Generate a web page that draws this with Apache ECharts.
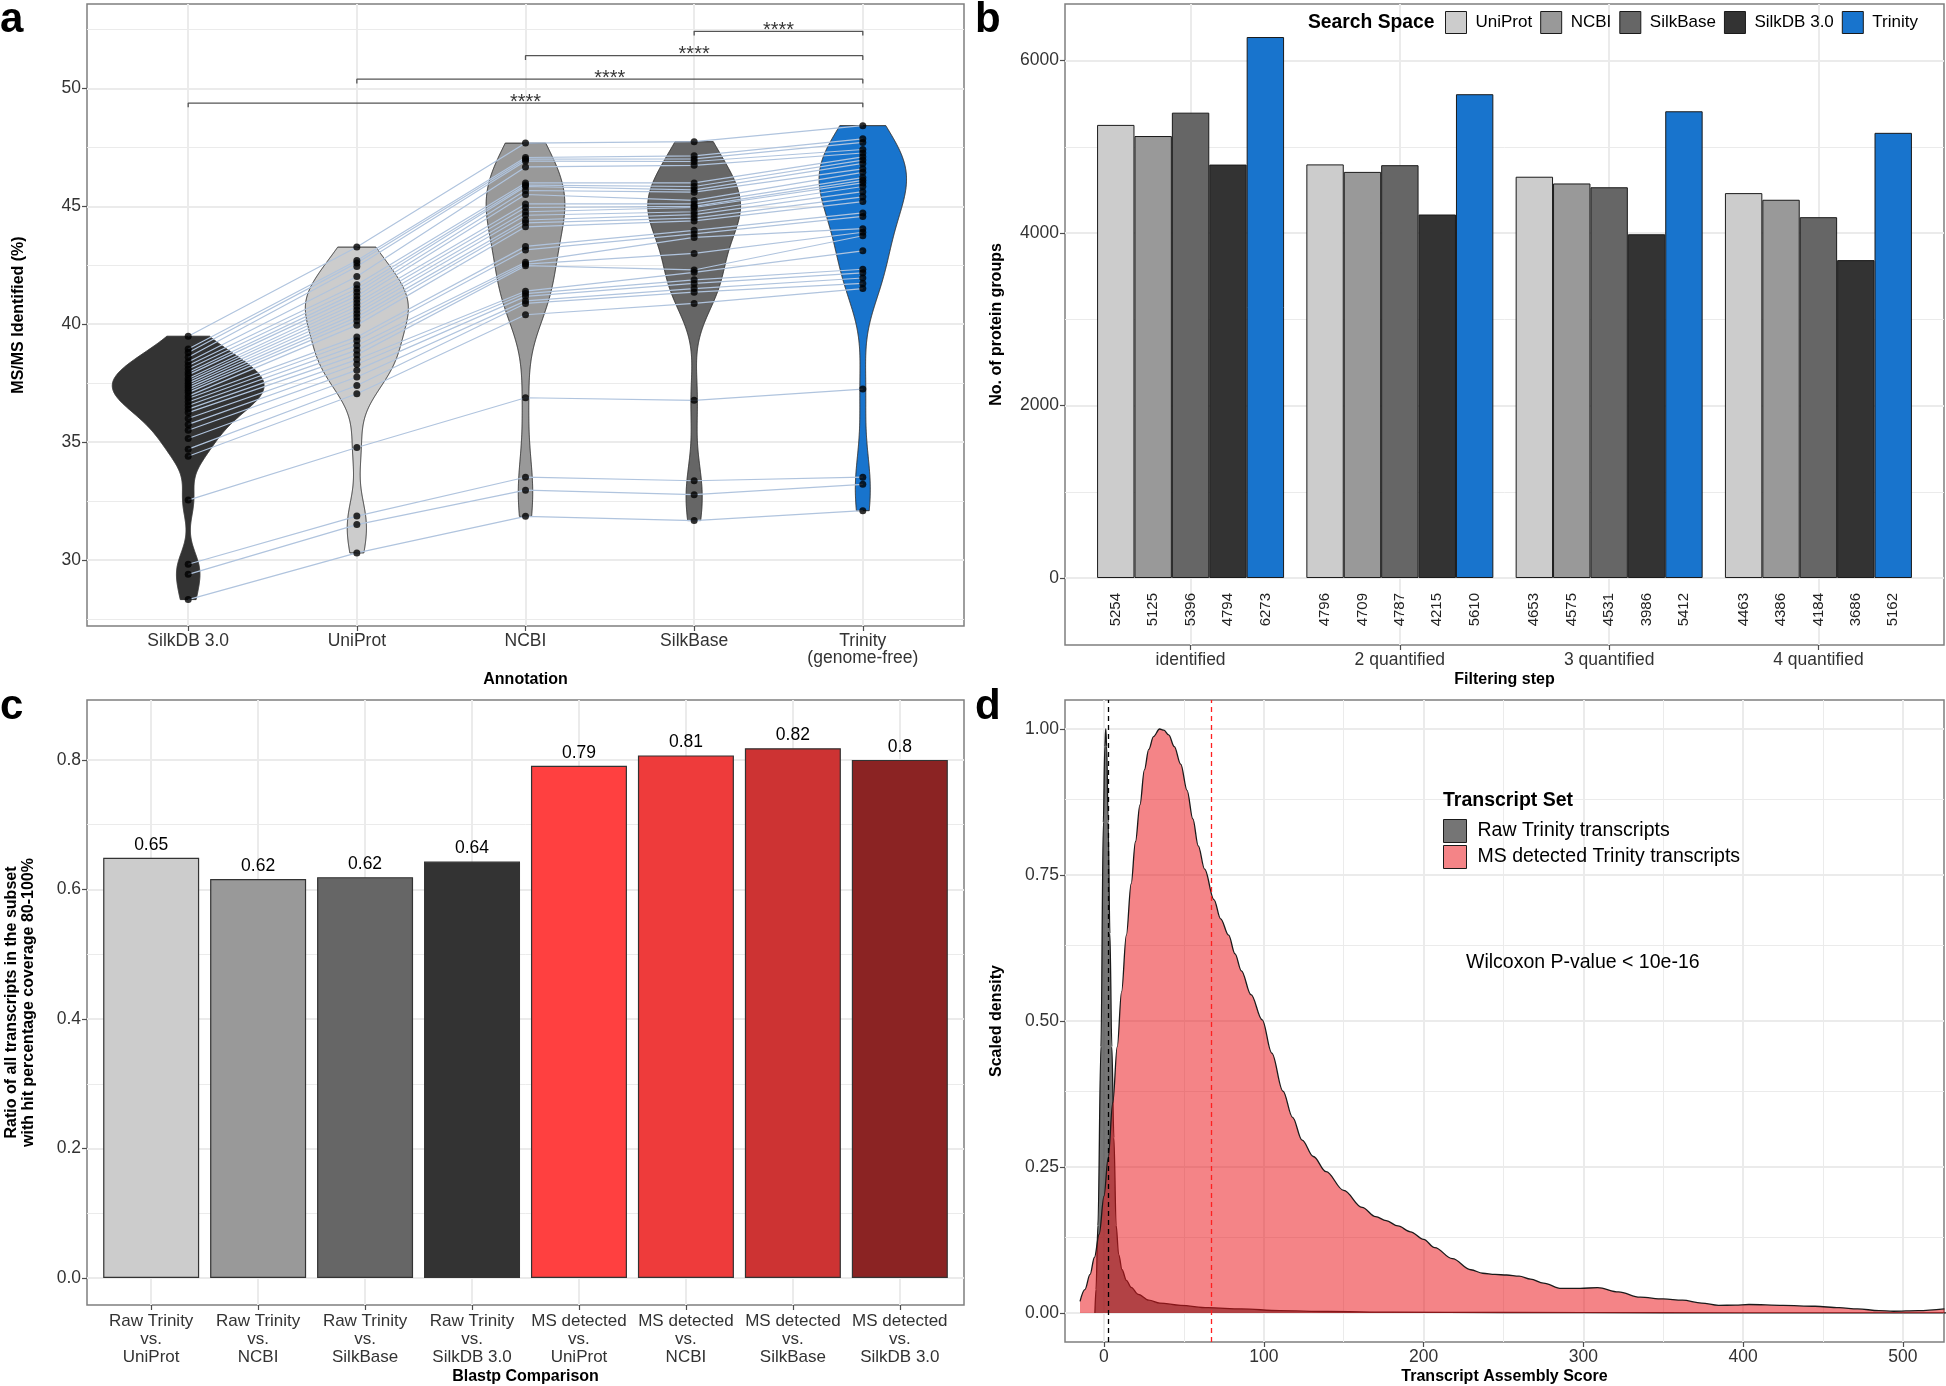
<!DOCTYPE html>
<html><head><meta charset="utf-8"><title>Figure</title>
<script src="https://cdn.jsdelivr.net/npm/echarts@6.0.0/dist/echarts.min.js"></script>
<style>html,body{margin:0;padding:0;background:#fff;}#chart{width:1946px;height:1386px;}</style>
</head><body><div id="chart"></div>
<script>
// ---------------- Panel a : MS/MS identified (%) per annotation ----------------
const annotationCats = ['SilkDB 3.0', 'UniProt', 'NCBI', 'SilkBase', 'Trinity\n(genome-free)'];
const msmsSilkDB   = [39.49,38.95,38.8,38.6,38.4,38.25,38.1,37.95,37.85,37.7,37.6,37.5,37.4,37.3,37.2,37.1,36.95,36.85,36.7,36.55,36.4,36.25,36.0,35.75,35.5,35.15,34.7,34.4,32.54,29.82,29.39,28.32];
const msmsUniProt  = [43.27,42.7,42.6,42.45,42.02,41.67,41.5,41.35,41.2,41.05,40.9,40.75,40.6,40.45,40.3,40.15,39.96,39.46,39.3,39.1,38.9,38.7,38.5,38.3,38.05,37.76,37.4,37.05,34.77,31.86,31.5,30.3];
const msmsNCBI     = [47.68,47.07,47.0,46.92,46.67,45.99,45.9,45.84,45.67,45.5,45.1,44.95,44.77,44.62,44.42,44.3,44.13,43.3,43.15,42.63,42.55,42.48,41.4,41.3,41.18,40.99,40.88,40.4,36.88,33.51,32.96,31.85];
const msmsSilkBase = [47.74,47.14,47.01,46.9,46.74,45.99,45.84,45.7,45.6,45.25,45.1,45.0,44.95,44.77,44.65,44.5,44.38,43.98,43.83,43.68,43.0,42.3,42.2,41.88,41.73,41.51,41.36,40.88,36.77,33.36,32.77,31.67];
const msmsTrinity  = [48.42,47.86,47.71,47.41,47.26,47.1,46.96,46.82,46.59,46.44,46.22,46.1,45.99,45.84,45.62,45.4,45.2,44.72,44.57,44.05,43.9,43.75,43.11,42.33,42.18,41.96,41.73,41.51,37.25,33.51,33.21,32.09];
const msmsTicks = [30, 35, 40, 45, 50];
const sigPairs  = [[1, 5], [2, 5], [3, 5], [4, 5]];
const sigLevels = [49.38, 50.39, 51.39, 52.42];
const sigLabels = ['****', '****', '****', '****'];

// ---------------- Panel b : protein groups ----------------
const filterSteps  = ['identified', '2 quantified', '3 quantified', '4 quantified'];
const searchSpaces = ['UniProt', 'NCBI', 'SilkBase', 'SilkDB 3.0', 'Trinity'];
const pgUniProt  = [5254, 4796, 4653, 4463];
const pgNCBI     = [5125, 4709, 4575, 4386];
const pgSilkBase = [5396, 4787, 4531, 4184];
const pgSilkDB   = [4794, 4215, 3986, 3686];
const pgTrinity  = [6273, 5610, 5412, 5162];
const pgTicks = [0, 2000, 4000, 6000];

// ---------------- Panel c : blastp coverage ratio ----------------
const blastCats = ['Raw Trinity\nvs.\nUniProt', 'Raw Trinity\nvs.\nNCBI', 'Raw Trinity\nvs.\nSilkBase', 'Raw Trinity\nvs.\nSilkDB 3.0',
                   'MS detected\nvs.\nUniProt', 'MS detected\nvs.\nNCBI', 'MS detected\nvs.\nSilkBase', 'MS detected\nvs.\nSilkDB 3.0'];
const blastRatio = [0.649, 0.616, 0.619, 0.643, 0.791, 0.807, 0.818, 0.800];
const ratioTicks = [0, 0.2, 0.4, 0.6, 0.8];

// ---------------- Panel d : transcript assembly score density ----------------
const rawScore   = [-5.7,-5,-3.8,-1.9,-0.4,0.5,1.1,1.7,2.6,3.7,4.9,6.2,7.6,9.2,11.3,14,17,21.5,28,35,48,65,86,110,140,180,250,350,450,530];
const rawDensity = [0,0.04,0.15,0.456,0.84,0.97,1.0,0.97,0.84,0.65,0.456,0.3,0.15,0.1,0.074,0.056,0.044,0.032,0.022,0.017,0.013,0.009,0.007,0.004,0.0025,0.0015,0.0008,0.0004,0.0002,0.0001];
const msScore    = [-15,-12,-8.7,-6,-3,0,2.6,5.5,8.3,11,14,17,19.7,22.5,25.3,28,31,34.8,37.5,40.5,44,48,52,55.6,59,63,68.8,73,78,82,86,92,99,105,112,118,124,131,139,150,161.5,170,176.6,184,191.8,200,207,218,229.6,237,244.7,252,259.8,267,275,286.3,298,309,322,335.5,350,362,374,384.6,395,403.6,425,445,460,471.6,485,494,509.5,526];
const msDensity  = [0.02,0.04,0.066,0.095,0.135,0.2,0.265,0.36,0.456,0.55,0.647,0.735,0.807,0.87,0.93,0.965,0.987,1.0,0.998,0.99,0.97,0.94,0.895,0.846,0.8,0.76,0.708,0.675,0.647,0.615,0.586,0.545,0.502,0.445,0.38,0.335,0.296,0.268,0.242,0.21,0.181,0.165,0.158,0.149,0.139,0.126,0.112,0.093,0.074,0.068,0.066,0.065,0.063,0.058,0.051,0.042,0.042,0.0435,0.036,0.027,0.024,0.022,0.017,0.013,0.0135,0.0145,0.013,0.0115,0.009,0.007,0.004,0.003,0.004,0.007];
const rawMedianScore = 2.9;
const msMedianScore  = 67.4;
const scoreTicks   = [0, 100, 200, 300, 400, 500];
const densityTicks = [0, 0.25, 0.5, 0.75, 1];

// ---------------- styling ----------------
const FONT = "'Liberation Sans', Arial, Helvetica, sans-serif";
const annotColors = ['#333333', '#CCCCCC', '#999999', '#666666', '#1874CD'];
const spaceColors = ['#CCCCCC', '#999999', '#666666', '#333333', '#1874CD'];
const blastColors = ['#CCCCCC', '#999999', '#666666', '#333333', '#FF4040', '#EE3B3B', '#CD3333', '#8B2323'];
const rawFill = 'rgba(51,51,51,0.68)';
const msFill  = 'rgba(234,20,24,0.52)';

// ---------------- violin densities (gaussian KDE, nrd0 bandwidth, trimmed) ----------------
function q7(s, p) { const h = (s.length - 1) * p, lo = Math.floor(h), hi = Math.min(lo + 1, s.length - 1); return s[lo] + (h - lo) * (s[hi] - s[lo]); }
function bwNrd0(v) {
  const n = v.length, m = v.reduce((a, b) => a + b, 0) / n;
  const sd = Math.sqrt(v.reduce((a, b) => a + (b - m) * (b - m), 0) / (n - 1));
  const s = [...v].sort((a, b) => a - b);
  const iqr = q7(s, 0.75) - q7(s, 0.25);
  return 0.9 * Math.min(sd, iqr / 1.34) * Math.pow(n, -0.2);
}
function kde(v) {
  const bw = bwNrd0(v), mn = Math.min(...v), mx = Math.max(...v), out = [];
  for (let j = 0; j < 512; j++) {
    const y = mn + (mx - mn) * j / 511; let d = 0;
    for (const x of v) { const z = (y - x) / bw; d += Math.exp(-0.5 * z * z); }
    out.push([y, d / (v.length * bw * Math.sqrt(2 * Math.PI))]);
  }
  return out;
}
const msmsGroups = [msmsSilkDB, msmsUniProt, msmsNCBI, msmsSilkBase, msmsTrinity];
const dens = msmsGroups.map(kde);
const maxDens = Math.max(...dens.map(g => Math.max(...g.map(p => p[1]))));
const violinPolys = dens.map((g, i) => {
  const c = i + 1;
  const right = g.map(([y, d]) => [c + 0.45 * d / maxDens, y]);
  const left = g.slice().reverse().map(([y, d]) => [c - 0.45 * d / maxDens, y]);
  return right.concat(left);
});

// ---------------- helpers ----------------
function minorOf(ticks, lo, hi) {
  const step = ticks[1] - ticks[0], out = [];
  [ticks[0] - step, ...ticks].forEach(t => { const m = t + step / 2; if (m > lo && m < hi) out.push(m); });
  return out;
}
function gridLines(i, xMajor, xMinor, yMajor, yMinor) {
  const mk = (vals, key, w) => vals.map(v => ({ [key]: v, lineStyle: { width: w } }));
  return {
    type: 'line', xAxisIndex: i, yAxisIndex: i, data: [], silent: true, z: 1,
    markLine: {
      silent: true, z: 1, symbol: ['none', 'none'], animation: false, label: { show: false },
      emphasis: { disabled: true },
      lineStyle: { color: '#EBEBEB', type: 'solid' },
      data: [...mk(yMinor, 'yAxis', 1), ...mk(xMinor, 'xAxis', 1), ...mk(yMajor, 'yAxis', 2), ...mk(xMajor, 'xAxis', 2)]
    }
  };
}
function valAxis(idx, min, max, ticks, fmt, name, nameGap, lab) {
  return {
    type: 'value', gridIndex: idx, min: min, max: max, scale: false,
    name: name, nameLocation: 'middle', nameGap: nameGap,
    nameTextStyle: { fontWeight: 'bold', fontSize: 16, color: '#000', fontFamily: FONT, lineHeight: 17 },
    axisLine: { show: false, onZero: false },
    splitLine: { show: false },
    axisTick: { show: true, length: 5, customValues: ticks, lineStyle: { color: '#4D4D4D', width: 1.2 } },
    axisLabel: Object.assign({ customValues: ticks, formatter: fmt, fontSize: 17.5, color: '#333', margin: 6, fontFamily: FONT }, lab || {})
  };
}
const gridBase = { show: true, borderColor: '#7F7F7F', borderWidth: 1.5, backgroundColor: '#fff' };
const catIdx = arr => arr.map((_, i) => i + 1);

// ---------------- series ----------------
const series = [];
series.push(gridLines(0, catIdx(annotationCats), [], msmsTicks, minorOf(msmsTicks, 27.2, 53.58)));
series.push(gridLines(1, catIdx(filterSteps), [], pgTicks, minorOf(pgTicks, -777, 6656)));
series.push(gridLines(2, catIdx(blastCats), [], ratioTicks, minorOf(ratioTicks, -0.0416, 0.8925)));
series.push(gridLines(3, scoreTicks, minorOf(scoreTicks, -24.4, 525.7), densityTicks, minorOf(densityTicks, -0.0497, 1.0497)));

// violins
series.push({
  type: 'custom', xAxisIndex: 0, yAxisIndex: 0, z: 2, silent: true,
  data: annotationCats.map((_, i) => [i + 1, msmsGroups[i][0]]),
  renderItem: (params, api) => ({
    type: 'polygon',
    shape: { points: violinPolys[params.dataIndex].map(p => api.coord(p)) },
    style: { fill: annotColors[params.dataIndex], stroke: '#333333', lineWidth: 1 }
  })
});
// paired lines per sample
msmsSilkDB.forEach((_, s) => {
  series.push({
    type: 'line', name: 'sample' + s, xAxisIndex: 0, yAxisIndex: 0, z: 3, silent: true,
    symbol: 'none', data: msmsGroups.map((g, k) => [k + 1, g[s]]),
    lineStyle: { color: '#B0C4DE', width: 1.2 }
  });
});
// points
series.push({
  type: 'scatter', xAxisIndex: 0, yAxisIndex: 0, z: 4, silent: true, symbolSize: 7,
  itemStyle: { color: '#000' },
  data: msmsGroups.flatMap((g, k) => g.map(v => [k + 1, v]))
});
// significance brackets
sigPairs.forEach((p, k) => {
  const y = sigLevels[k], tip = 0.18;
  series.push({
    type: 'line', xAxisIndex: 0, yAxisIndex: 0, z: 3, silent: true, symbol: 'none',
    data: [[p[0], y - tip], [p[0], y], [p[1], y], [p[1], y - tip]],
    lineStyle: { color: '#555', width: 1.3 }
  });
});
series.push({
  type: 'scatter', xAxisIndex: 0, yAxisIndex: 0, z: 5, silent: true, symbolSize: 0.1,
  itemStyle: { color: 'rgba(0,0,0,0)' },
  data: sigPairs.map((p, k) => [(p[0] + p[1]) / 2, sigLevels[k], sigLabels[k]]),
  label: { show: true, position: 'inside', offset: [0, -1], formatter: q => q.value[2], fontSize: 20, color: '#000', fontFamily: FONT }
});

// panel b bars
[pgUniProt, pgNCBI, pgSilkBase, pgSilkDB, pgTrinity].forEach((vals, k) => {
  series.push({
    type: 'bar', name: searchSpaces[k], xAxisIndex: 1, yAxisIndex: 1, z: 2, barWidth: 37.4, barGap: '0%',
    data: vals.map((v, i) => [i + 1, v]),
    itemStyle: { color: spaceColors[k], borderColor: '#1a1a1a', borderWidth: 1 },
    label: { show: true, position: 'bottom', distance: 15, rotate: 90, align: 'right', verticalAlign: 'middle',
             fontSize: 15, color: '#222', fontFamily: FONT, formatter: q => String(q.value[1]) }
  });
});

// panel c bars
series.push({
  type: 'bar', xAxisIndex: 2, yAxisIndex: 2, z: 2, barWidth: 96,
  data: blastRatio.map((v, i) => ({ value: [i + 1, v], itemStyle: { color: blastColors[i] } })),
  itemStyle: { borderColor: '#333', borderWidth: 1.2 },
  label: { show: true, position: 'top', distance: 4, fontSize: 17.5, color: '#000', fontFamily: FONT,
           formatter: q => String(Math.round(q.value[1] * 100) / 100) }
});

// panel d densities
series.push({
  type: 'line', name: 'Raw Trinity transcripts', xAxisIndex: 3, yAxisIndex: 3, z: 2, silent: true,
  symbol: 'none', smooth: 0.35, smoothMonotone: 'x',
  data: rawScore.map((x, i) => [x, rawDensity[i]]),
  itemStyle: { color: rawFill }, lineStyle: { color: '#1a1a1a', width: 1.3 }, areaStyle: { color: rawFill, opacity: 1 },
  markLine: { silent: true, z: 5, symbol: ['none', 'none'], label: { show: false }, animation: false,
              lineStyle: { color: '#000', type: [5, 4], width: 1.3 }, data: [{ xAxis: rawMedianScore }] }
});
series.push({
  type: 'line', name: 'MS detected Trinity transcripts', xAxisIndex: 3, yAxisIndex: 3, z: 3, silent: true,
  symbol: 'none', smooth: 0.35, smoothMonotone: 'x',
  data: msScore.map((x, i) => [x, msDensity[i]]),
  itemStyle: { color: msFill }, lineStyle: { color: '#1a1a1a', width: 1.3 }, areaStyle: { color: msFill, opacity: 1 },
  markLine: { silent: true, z: 5, symbol: ['none', 'none'], label: { show: false }, animation: false,
              lineStyle: { color: '#FF2020', type: [5, 4], width: 1.3 }, data: [{ xAxis: msMedianScore }] }
});

const letter = (t, x, y) => ({ type: 'text', x: x, y: y, z: 100,
  style: { text: t, font: 'bold 42px ' + FONT, fill: '#000', textAlign: 'left', textVerticalAlign: 'middle' } });
const label = (t, x, y, size, bold) => ({ type: 'text', x: x, y: y, z: 100,
  style: { text: t, font: (bold ? 'bold ' : '') + size + 'px ' + FONT, fill: '#000', textAlign: 'left', textVerticalAlign: 'middle' } });

const option = {
  animation: false,
  textStyle: { fontFamily: FONT },
  grid: [
    Object.assign({ left: 87, top: 4, width: 877, height: 622 }, gridBase),
    Object.assign({ left: 1065, top: 4, width: 879, height: 641 }, gridBase),
    Object.assign({ left: 87, top: 700, width: 877, height: 606 }, gridBase),
    Object.assign({ left: 1065, top: 700, width: 879, height: 643 }, gridBase)
  ],
  xAxis: [
    valAxis(0, 0.4, 5.6, catIdx(annotationCats), v => annotationCats[Math.round(v) - 1], 'Annotation', 45, { lineHeight: 17, margin: 7 }),
    valAxis(1, 0.4, 4.6, catIdx(filterSteps), v => filterSteps[Math.round(v) - 1], 'Filtering step', 26, { margin: 6 }),
    valAxis(2, 0.4, 8.6, catIdx(blastCats), v => blastCats[Math.round(v) - 1], 'Blastp Comparison', 63, { lineHeight: 18, fontSize: 17, margin: 7 }),
    valAxis(3, -24.4, 525.7, scoreTicks, v => String(v), 'Transcript Assembly Score', 26, { margin: 6 })
  ],
  yAxis: [
    valAxis(0, 27.2, 53.58, msmsTicks, v => String(v), 'MS/MS Identified (%)', 60),
    valAxis(1, -777, 6656, pgTicks, v => String(v), 'No. of protein groups', 60),
    valAxis(2, -0.0416, 0.8925, ratioTicks, v => v.toFixed(1), 'Ratio of all transcripts in the subset\nwith hit percentage coverage 80-100%', 50),
    valAxis(3, -0.0497, 1.0497, densityTicks, v => v.toFixed(2), 'Scaled density', 60)
  ],
  legend: [
    { data: searchSpaces, left: 1445, top: 11, width: 500, padding: 0, orient: 'horizontal', icon: 'rect', itemWidth: 21, itemHeight: 22, itemGap: 8,
      selectedMode: false, itemStyle: { borderColor: '#1a1a1a', borderWidth: 1 },
      textStyle: { fontSize: 17, color: '#000', fontFamily: FONT, padding: [0, 0, 0, 4] } },
    { data: ['Raw Trinity transcripts', 'MS detected Trinity transcripts'], left: 1443, top: 819, padding: 0, orient: 'vertical', icon: 'rect',
      itemWidth: 23, itemHeight: 23, itemGap: 2, selectedMode: false, itemStyle: { borderColor: '#1a1a1a', borderWidth: 1 },
      textStyle: { fontSize: 19.5, color: '#000', fontFamily: FONT, padding: [0, 0, 0, 6] } }
  ],
  graphic: [
    letter('a', 0, 20), letter('b', 975, 20), letter('c', 0, 707), letter('d', 975, 707),
    label('Search Space', 1308, 23, 19.3, true),
    label('Transcript Set', 1443, 801, 19.5, true),
    label('Wilcoxon P-value < 10e-16', 1466, 963, 19.5, false)
  ],
  series: series
};
const chart = echarts.init(document.getElementById('chart'), null, { renderer: 'canvas' });
chart.setOption(option);
</script></body></html>
